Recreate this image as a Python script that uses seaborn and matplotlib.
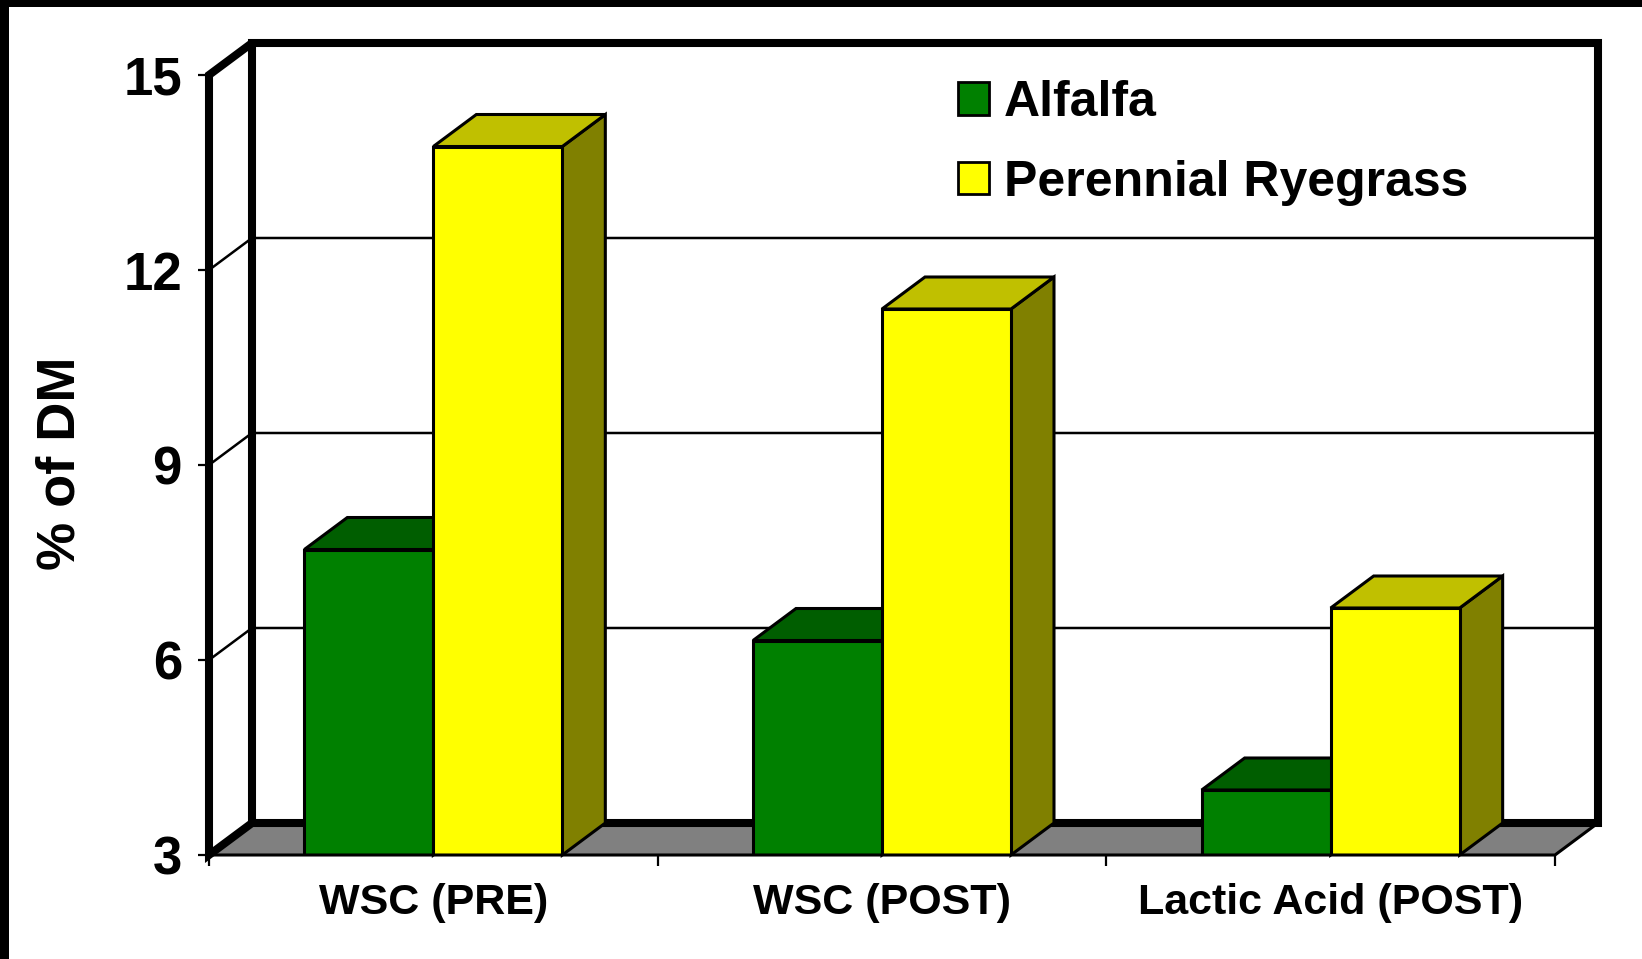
import numpy as np
import pandas as pd
import matplotlib
matplotlib.use('Agg')
import matplotlib.pyplot as plt
import seaborn as sns
from matplotlib.patches import Polygon, Rectangle

# ---------------- data ----------------
categories = ['WSC (PRE)', 'WSC (POST)', 'Lactic Acid (POST)']
series_names = ['Alfalfa', 'Perennial Ryegrass']
alfalfa = [7.7, 6.3, 4.0]
ryegrass = [13.9, 11.4, 6.8]
y_ticks = [3, 6, 9, 12, 15]
y_label = '% of DM'

# ---------------- styles ----------------
front_colors = ['#008000', '#FFFF00']
top_colors = ['#005E00', '#C0C000']
side_colors = ['#004000', '#808000']
floor_color = '#808080'

df = pd.DataFrame({
    'Measure': categories * 2,
    'Forage': [series_names[0]] * len(categories) + [series_names[1]] * len(categories),
    'Value': alfalfa + ryegrass,
})

sns.set_theme(style='white')
plt.rcParams['font.family'] = ['Liberation Sans', 'DejaVu Sans']
plt.rcParams['font.weight'] = 'bold'

W, H, DPI = 1642, 959, 100
fig = plt.figure(figsize=(W / DPI, H / DPI), dpi=DPI)
fig.patch.set_facecolor('white')
L, R, B, T = 209, 1555, 855, 75
ax = fig.add_axes([L / W, 1 - B / H, (R - L) / W, (B - T) / H])
ax.set_facecolor('none')

sns.barplot(data=df, x='Measure', y='Value', hue='Forage', palette=front_colors,
            saturation=1, width=0.575, edgecolor='black', linewidth=2.2,
            ax=ax, zorder=5)

ymin, ymax = y_ticks[0], y_ticks[-1]
x0, x1 = -0.5, len(categories) - 0.5
ax.set_xlim(x0, x1)
ax.set_ylim(ymin, ymax)

# depth offset (pixels) converted to data units
OX, OY = 43, 32
p0 = ax.transData.transform((0, ymin))
q = ax.transData.inverted().transform(p0 + np.array([OX, OY]))
DX, DY = q[0] - 0, q[1] - ymin

kw = dict(clip_on=False)
# back wall
ax.add_patch(Polygon([(x0 + DX, ymin + DY), (x1 + DX, ymin + DY), (x1 + DX, ymax + DY), (x0 + DX, ymax + DY)],
                     closed=True, facecolor='white', edgecolor='none', zorder=0, **kw))
# floor
ax.add_patch(Polygon([(x0, ymin), (x1, ymin), (x1 + DX, ymin + DY), (x0 + DX, ymin + DY)],
                     closed=True, facecolor=floor_color, edgecolor='none', zorder=1, **kw))
# gridlines (side wall + back wall)
for v in y_ticks[1:-1]:
    ax.plot([x0, x0 + DX, x1 + DX], [v, v + DY, v + DY], color='black', lw=1.8, zorder=1.5, **kw)

thick = 5.8
# back wall outline
ax.plot([x0 + DX, x0 + DX, x1 + DX, x1 + DX, x0 + DX],
        [ymin + DY, ymax + DY, ymax + DY, ymin + DY, ymin + DY],
        color='black', lw=thick, zorder=2, solid_joinstyle='miter', **kw)
# side wall outline
ax.plot([x0 + DX, x0, x0, x0 + DX], [ymax + DY, ymax, ymin, ymin + DY],
        color='black', lw=thick, zorder=2, solid_joinstyle='miter', **kw)
# floor front and right edges
ax.plot([x0, x1, x1 + DX], [ymin, ymin, ymin + DY], color='black', lw=2.2, zorder=6,
        solid_joinstyle='miter', **kw)

# 3D faces of bars
for i, cont in enumerate(ax.containers):
    for r in cont:
        bx, bw, bh = r.get_x(), r.get_width(), r.get_height()
        ax.add_patch(Polygon([(bx + bw, ymin), (bx + bw + DX, ymin + DY), (bx + bw + DX, bh + DY), (bx + bw, bh)],
                             closed=True, facecolor=side_colors[i], edgecolor='black', lw=2.2,
                             zorder=4, **kw))
        ax.add_patch(Polygon([(bx, bh), (bx + bw, bh), (bx + bw + DX, bh + DY), (bx + DX, bh + DY)],
                             closed=True, facecolor=top_colors[i], edgecolor='black', lw=2.2,
                             zorder=4, **kw))

for s in ax.spines.values():
    s.set_visible(False)

ax.set_yticks(y_ticks)
ax.set_yticklabels([str(v) for v in y_ticks])
ax.tick_params(axis='y', left=True, length=8, width=1.6, color='black', pad=11.5,
               labelsize=38, labelcolor='black')
ax.set_xticks(range(len(categories)))
ax.set_xticklabels(categories)
ax.set_xticks(np.arange(len(categories) + 1) - 0.5, minor=True)
ax.tick_params(axis='x', which='major', bottom=False, length=0, pad=20, labelsize=31, labelcolor='black')
ax.tick_params(axis='x', which='minor', bottom=True, length=8, width=1.6, color='black')
for lab in ax.get_xticklabels() + ax.get_yticklabels():
    lab.set_fontweight('bold')

ax.set_xlabel('')
ax.set_ylabel(y_label, fontsize=39, fontweight='bold', color='black', va='center')
ax.yaxis.set_label_coords((60.5 - L) / (R - L), (B - 463) / (B - T))

# legend
handles, labels = ax.get_legend_handles_labels()
for h_ in handles:
    h_.set_edgecolor('black')
    h_.set_linewidth(2)
leg = ax.legend(handles, labels, loc='upper left', bbox_to_anchor=(958 / W, 1 - 80 / H),
                bbox_transform=fig.transFigure, frameon=False, fontsize=36,
                handlelength=0.62, handleheight=0.62, handletextpad=0.3,
                labelspacing=0.67, borderpad=0, borderaxespad=0)
for t in leg.get_texts():
    t.set_fontweight('bold')
    t.set_color('black')
leg.set_zorder(10)

# black frame strips (top & left)
fig.add_artist(Rectangle((0, 1 - 7 / H), 1, 7 / H, transform=fig.transFigure,
                         facecolor='black', edgecolor='none'))
fig.add_artist(Rectangle((0, 0), 9 / W, 1, transform=fig.transFigure,
                         facecolor='black', edgecolor='none'))

fig.savefig('out.png', dpi=DPI)
